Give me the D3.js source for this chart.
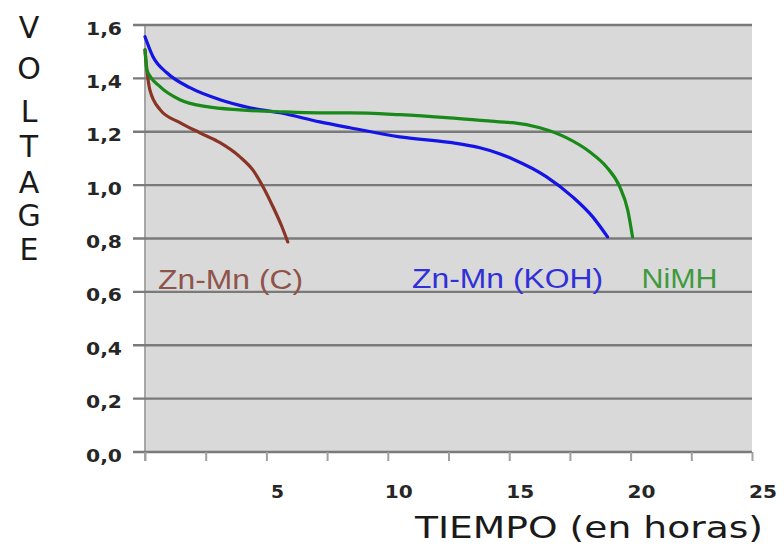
<!DOCTYPE html>
<html>
<head>
<meta charset="utf-8">
<script src="https://cdn.jsdelivr.net/npm/d3@7"></script>
<style>
  html, body { margin: 0; padding: 0; background: #ffffff; }
  svg { display: block; }
</style>
</head>
<body>
<svg id="chart" width="784" height="547"></svg>
<script>
// ---- data ----
const seriesNames = ["Zn-Mn (C)", "Zn-Mn (KOH)", "NiMH"];
const znmnC_t = [0, 0.08, 0.2, 0.62, 1.44, 2.26, 3.09, 3.91, 4.44, 4.86, 5.27, 5.64, 5.88];
const znmnC_v = [1.507, 1.43, 1.357, 1.283, 1.234, 1.196, 1.159, 1.106, 1.057, 0.994, 0.919, 0.844, 0.787];
const znmnKOH_t = [0, 0.33, 0.9, 1.85, 3.09, 4.32, 5.56, 7.2, 8.44, 10.49, 12.55, 13.79, 14.6, 15.14, 16.54, 17.61, 18.44, 19.05];
const znmnKOH_v = [1.556, 1.481, 1.421, 1.365, 1.32, 1.29, 1.271, 1.237, 1.215, 1.181, 1.160, 1.140, 1.118, 1.098, 1.031, 0.956, 0.881, 0.806];
const nimh_t = [0, 0.08, 0.62, 1.44, 2.55, 3.91, 5.56, 7.2, 8.44, 10.49, 12.55, 14.6, 15.14, 16.26, 17.37, 18.31, 19.0, 19.55, 19.88, 20.08];
const nimh_v = [1.507, 1.43, 1.369, 1.32, 1.294, 1.282, 1.275, 1.271, 1.271, 1.264, 1.252, 1.237, 1.234, 1.215, 1.177, 1.125, 1.069, 0.994, 0.907, 0.806];
const yTickValues = [0, 0.2, 0.4, 0.6, 0.8, 1.0, 1.2, 1.4, 1.6];
const xTickValues = [0, 2.5, 5, 7.5, 10, 12.5, 15, 17.5, 20, 22.5, 25];
const xLabelValues = [5, 10, 15, 20, 25];
// label anchor positions in data units (time, voltage)
const labelT = [0.54, 11.0, 20.45];
const labelV = [0.611, 0.615, 0.615];
const yTitleLetters = ["V", "O", "L", "T", "A", "G", "E"];
const xTitle = "TIEMPO (en horas)";

// ---- layout ----
const svg = d3.select("#chart");
const x = d3.scaleLinear().domain([0, 25]).range([145, 752]);
const y = d3.scaleLinear().domain([0, 1.6]).range([452, 25]);

const lineColors = ["#8a3426", "#1414e6", "#198a19"];
const labelColors = ["#8e5449", "#3030d8", "#3f9a3f"];
const labelWidths = [145, 191, 76];

// plot background
svg.append("rect")
  .attr("x", x(0)).attr("y", y(1.6))
  .attr("width", x(25) - x(0)).attr("height", y(0) - y(1.6))
  .attr("fill", "#d9d9d9");

// left border of plot area
svg.append("line")
  .attr("x1", x(0)).attr("x2", x(0))
  .attr("y1", y(1.6)).attr("y2", y(0) + 9)
  .attr("stroke", "#a6a6a6").attr("stroke-width", 2);

// horizontal gridlines (with tick stubs to the left)
svg.append("g").selectAll("line").data(yTickValues).join("line")
  .attr("x1", x(0) - 12).attr("x2", x(25))
  .attr("y1", d => y(d)).attr("y2", d => y(d))
  .attr("stroke", "#7a7a7a").attr("stroke-width", 2.4);

// x axis ticks
const xAxis = d3.axisBottom(x).tickValues(xTickValues).tickSize(9).tickFormat("");
const gx = svg.append("g").attr("transform", `translate(0,${y(0)})`).call(xAxis);
gx.select(".domain").remove();
gx.selectAll(".tick line").attr("stroke", "#a0a0a0").attr("stroke-width", 2);

// x tick labels
svg.append("g").selectAll("text").data(xLabelValues).join("text")
  .attr("x", d => x(d) + 11)
  .attr("y", 498)
  .attr("text-anchor", "middle")
  .attr("font-family", "DejaVu Sans")
  .attr("font-weight", "bold")
  .attr("font-size", 18)
  .attr("fill", "#262626")
  .attr("textLength", d => String(d).length === 1 ? 13 : 28)
  .attr("lengthAdjust", "spacingAndGlyphs")
  .text(d => String(d));

// y tick labels
const fmt = d => d3.format(".1f")(d).replace(".", ",");
svg.append("g").selectAll("text").data(yTickValues).join("text")
  .attr("x", 122)
  .attr("y", d => y(d) + 9.5)
  .attr("text-anchor", "end")
  .attr("font-family", "DejaVu Sans")
  .attr("font-weight", "bold")
  .attr("font-size", 18)
  .attr("fill", "#262626")
  .attr("textLength", 36)
  .attr("lengthAdjust", "spacingAndGlyphs")
  .text(fmt);

// curves
const series = [
  d3.zip(znmnC_t, znmnC_v),
  d3.zip(znmnKOH_t, znmnKOH_v),
  d3.zip(nimh_t, nimh_v)
];
const line = d3.line().x(d => x(d[0])).y(d => y(d[1])).curve(d3.curveMonotoneX);
svg.append("g").selectAll("path").data(series).join("path")
  .attr("d", line)
  .attr("fill", "none")
  .attr("stroke", (d, i) => lineColors[i])
  .attr("stroke-width", 3.2)
  .attr("stroke-linecap", "round")
  .attr("stroke-linejoin", "round");

// series labels
svg.append("g").selectAll("text").data(seriesNames).join("text")
  .attr("x", (d, i) => x(labelT[i]))
  .attr("y", (d, i) => y(labelV[i]))
  .attr("font-family", "Liberation Sans")
  .attr("font-size", 27)
  .attr("fill", (d, i) => labelColors[i])
  .attr("textLength", (d, i) => labelWidths[i])
  .attr("lengthAdjust", "spacingAndGlyphs")
  .text(d => d);

// y title (stacked letters)
const letterBaselines = [38, 79, 122, 157, 193, 226, 260];
svg.append("g").selectAll("text").data(yTitleLetters).join("text")
  .attr("x", 29)
  .attr("y", (d, i) => letterBaselines[i])
  .attr("text-anchor", "middle")
  .attr("font-family", "DejaVu Sans")
  .attr("font-size", 30)
  .attr("fill", "#1a1a1a")
  .text(d => d);

// x title
svg.append("text")
  .attr("x", 415)
  .attr("y", 538)
  .attr("font-family", "DejaVu Sans")
  .attr("font-size", 31)
  .attr("fill", "#1a1a1a")
  .attr("textLength", 348)
  .attr("lengthAdjust", "spacingAndGlyphs")
  .text(xTitle);
</script>
</body>
</html>
